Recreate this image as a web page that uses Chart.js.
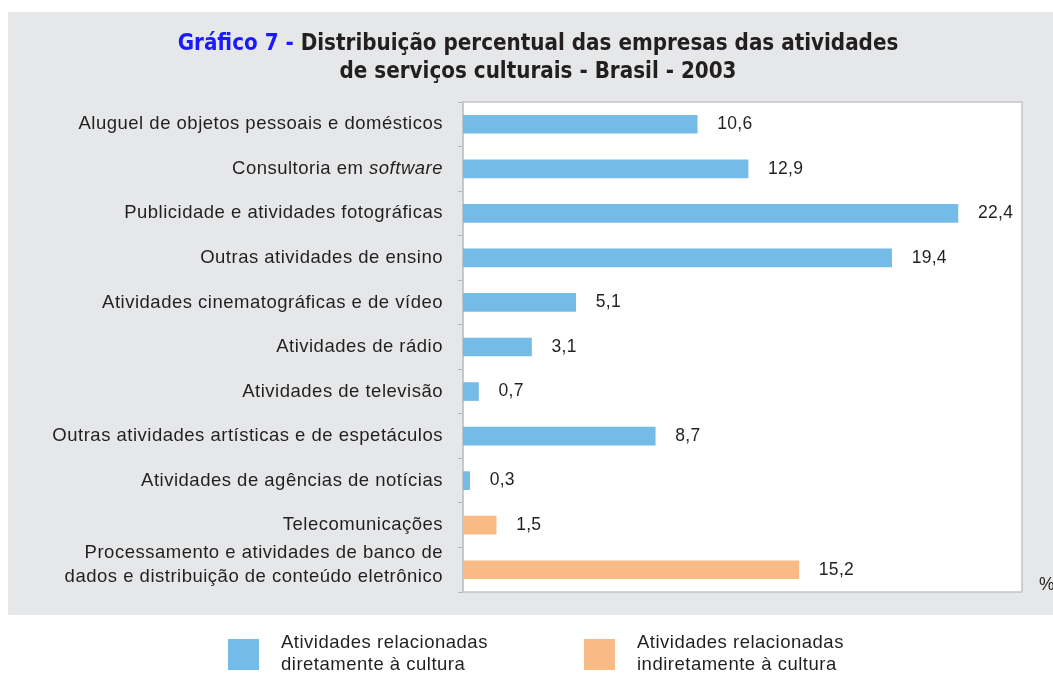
<!DOCTYPE html>
<html>
<head>
<meta charset="utf-8">
<script src="https://cdn.jsdelivr.net/npm/chart.js@4"></script>
<style>
  html, body { margin: 0; padding: 0; background: #ffffff; }
  #wrap { position: relative; width: 1053px; height: 673px; }
</style>
</head>
<body>
<div id="wrap"><canvas id="chart" width="1053" height="673"></canvas></div>
<script>
// categories (top to bottom)
const categories = [
    'Aluguel de objetos pessoais e domésticos',
    'Consultoria em software',
    'Publicidade e atividades fotográficas',
    'Outras atividades de ensino',
    'Atividades cinematográficas e de vídeo',
    'Atividades de rádio',
    'Atividades de televisão',
    'Outras atividades artísticas e de espetáculos',
    'Atividades de agências de notícias',
    'Telecomunicações',
    ['Processamento e atividades de banco de', 'dados e distribuição de conteúdo eletrônico'],
];
const values = [10.6, 12.9, 22.4, 19.4, 5.1, 3.1, 0.7, 8.7, 0.3, 1.5, 15.2];
// 0 = diretamente, 1 = indiretamente
const groupOf = [0, 0, 0, 0, 0, 0, 0, 0, 0, 1, 1];
const groupNames = [
    ['Atividades relacionadas', 'diretamente à cultura'],
    ['Atividades relacionadas', 'indiretamente à cultura'],
];
const groupColors = ['#74bce7', '#f9bb86'];
const italicWords = ['software'];

const TEXT = '#231f20';
const FONT = '"Liberation Sans", Arial, sans-serif';
const TITLE_FONT = '"Liberation Sans Narrow", "DejaVu Sans Condensed", "Liberation Sans", sans-serif';
const LABEL = '18.5px ' + FONT;

const fmt = v => v.toFixed(1).replace('.', ',');

// gray panel, white plot area and its border
const panelPlugin = {
    id: 'panel',
    beforeDraw(chart) {
        const { ctx, chartArea: a } = chart;
        ctx.save();
        ctx.fillStyle = '#e6e7e8';
        ctx.fillRect(8, 12, 1045, 603);
        ctx.fillStyle = '#ffffff';
        ctx.fillRect(a.left, a.top, a.right - a.left, a.bottom - a.top);
        ctx.strokeStyle = '#c3c4c6';
        ctx.lineWidth = 1.5;
        ctx.strokeRect(a.left, a.top, a.right - a.left, a.bottom - a.top);
        ctx.restore();
    },
};

// title, category labels, value labels, legend
const textPlugin = {
    id: 'texts',
    afterDraw(chart) {
        const { ctx, chartArea: a } = chart;
        const y = chart.scales.y;
        const x = chart.scales.x;
        ctx.save();

        // title
        ctx.textBaseline = 'middle';
        ctx.font = 'bold 22.2px ' + TITLE_FONT;
        const p1 = 'Gráfico 7 - ';
        const p2 = 'Distribuição percentual das empresas das atividades';
        const w1 = ctx.measureText(p1).width;
        const w2 = ctx.measureText(p2).width;
        const sx = 538 - (w1 + w2) / 2;
        ctx.textAlign = 'left';
        ctx.fillStyle = '#1a1aff';
        ctx.fillText('Gráfico 7 -', sx, 44);
        ctx.fillStyle = TEXT;
        ctx.fillText(p2, sx + w1, 44);
        ctx.textAlign = 'center';
        ctx.fillText('de serviços culturais - Brasil - 2003', 538, 72);

        // category labels
        ctx.letterSpacing = '0.5px';
        ctx.font = LABEL;
        ctx.textAlign = 'right';
        categories.forEach((lab, i) => {
            const cy = y.getPixelForValue(i);
            const lines = Array.isArray(lab) ? lab : [lab];
            const lh = 24;
            const shift = lines.length > 1 ? -5 : 0;
            lines.forEach((line, j) => {
                const ly = cy + shift + (j - (lines.length - 1) / 2) * lh;
                const right = a.left - 20;
                const it = italicWords.find(w => line.endsWith(w));
                if (it) {
                    ctx.font = 'italic ' + LABEL;
                    const wi = ctx.measureText(it).width;
                    ctx.fillText(it, right, ly);
                    ctx.font = LABEL;
                    ctx.fillText(line.slice(0, line.length - it.length), right - wi, ly);
                } else {
                    ctx.fillText(line, right, ly);
                }
            });
        });

        // value labels
        ctx.font = '17.5px ' + FONT;
        ctx.letterSpacing = '0.3px';
        ctx.textAlign = 'left';
        values.forEach((v, i) => {
            ctx.fillText(fmt(v), x.getPixelForValue(v) + 20, y.getPixelForValue(i));
        });

        // unit
        ctx.fillText('%', 1039, 585);

        // legend
        ctx.letterSpacing = '0.5px';
        const lx = [228, 584];
        groupNames.forEach((lines, g) => {
            ctx.fillStyle = groupColors[g];
            ctx.fillRect(lx[g], 639, 31, 31);
            ctx.fillStyle = TEXT;
            ctx.font = LABEL;
            lines.forEach((line, j) => {
                ctx.fillText(line, lx[g] + 53, 643 + j * 22);
            });
        });

        ctx.restore();
    },
};

new Chart(document.getElementById('chart'), {
    type: 'bar',
    data: {
        labels: categories,
        datasets: [{
            data: values,
            backgroundColor: groupOf.map(g => groupColors[g]),
            barThickness: 18,
        }],
    },
    options: {
        indexAxis: 'y',
        responsive: false,
        animation: false,
        layout: { padding: { top: 102, bottom: 81, right: 31, left: 0 } },
        plugins: {
            legend: { display: false },
            tooltip: { enabled: false },
        },
        scales: {
            x: {
                display: false,
                min: 0,
                max: 25.3,
            },
            y: {
                afterFit: s => { s.width = 463; },
                ticks: { display: false },
                grid: {
                    offset: true,
                    drawOnChartArea: false,
                    drawTicks: true,
                    tickLength: 5,
                    color: '#b5b6b8',
                },
                border: { color: '#c3c4c6', width: 1.5 },
            },
        },
    },
    plugins: [panelPlugin, textPlugin],
});
</script>
</body>
</html>
